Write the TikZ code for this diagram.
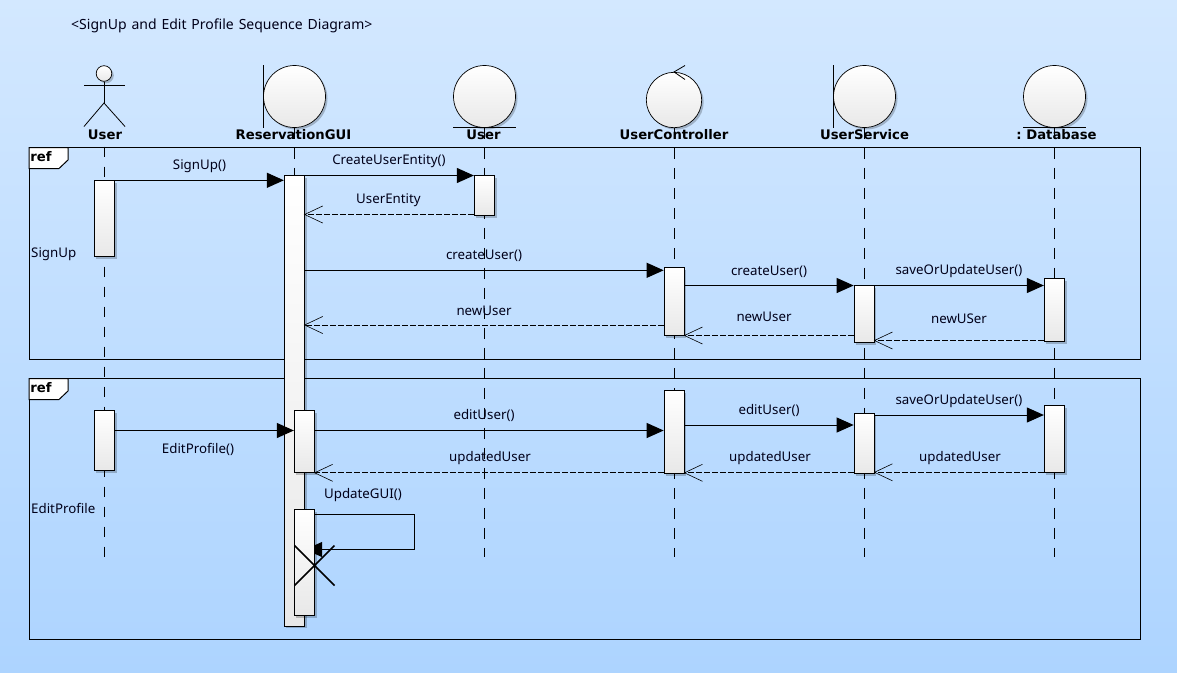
\documentclass[tikz,border=0pt]{standalone}
\usepackage{fontspec}
\setmainfont{Noto Sans}
\newfontfamily\headfont{DejaVu Sans}
\newcommand{\titlefont}{\fontsize{14}{16}\selectfont\spaceskip 4.9pt\relax}
\usetikzlibrary{calc, positioning, arrows.meta, shadows}

\definecolor{bgtop}{HTML}{D3E8FF}
\definecolor{bgbot}{HTML}{ADD4FF}
\definecolor{boxlow}{HTML}{E8E8E8}

\tikzset{
  softshadow/.style={drop shadow={shadow xshift=2pt, shadow yshift=-2pt, opacity=0.22, fill=black}},
  activ/.style={draw, line width=1pt, top color=white, bottom color=boxlow, minimum width=20.3pt, inner sep=0pt, softshadow},
  headball/.style={draw, circle, line width=0.7pt, top color=white, bottom color=boxlow, inner sep=0pt, softshadow},
  lifeline/.style={line width=1pt, dash pattern=on 10.7pt off 9.3pt},
  msg/.style={line width=1pt, -{Triangle[length=17pt,width=15pt]}},
  reply/.style={line width=0.8pt, dash pattern=on 5.5pt off 2.5pt, shorten >=-1.2pt, -{Straight Barb[length=18pt,width=17pt,line width=0.6pt]}},
  headlabel/.style={font=\fontsize{13.2}{15}\headfont\bfseries, inner sep=0pt},
  msglabel/.style={font=\fontsize{13.3}{15}\selectfont, inner sep=0pt, yshift=-0.8pt, text=black!90!blue},
  titlelabel/.style={font=\titlefont, inner sep=0pt, text=black!90!blue},
  frameline/.style={draw, line width=1pt},
  framelabel/.style={font=\fontsize{13.2}{15}\headfont\bfseries, inner sep=0pt}
}

\begin{document}
\begin{tikzpicture}[x=1pt, y=-1pt]
  \useasboundingbox (0,0) rectangle (1177,672);
  \fill[top color=bgtop, bottom color=bgbot] (0,0) rectangle (1177,672);

  \node[titlelabel, anchor=west] (title) at (71,25.5) {<SignUp and Edit Profile Sequence Diagram>};

  % Frames
  \draw[frameline] (29,147.5) rectangle (1140.5,359);
  \draw[frameline] (29,378.5) rectangle (1140.5,639.5);
  \draw[frameline, fill=white] (29,147.5) -- (68,147.5) -- (68,160) -- (59,168.5) -- (29,168.5) -- cycle;
  \draw[frameline, fill=white] (29,378.5) -- (68,378.5) -- (68,391) -- (59,399.5) -- (29,399.5) -- cycle;
  \node[framelabel] (ref1) at (41,157) {ref};
  \node[framelabel] (ref2) at (41,388) {ref};
  \node[msglabel, anchor=west] (frag1) at (31,253) {SignUp};
  \node[msglabel, anchor=west] (frag2) at (31,508) {EditProfile};

  % Lifeline heads
  \node[headball, minimum size=15.6pt] (actorhead) at (104,73.5) {};
  \coordinate (actorhip) at (104,103);
  \node[headball, minimum size=62pt] (gui) at (294.5,96.5) {};
  \node[headball, minimum size=62pt] (entity) at (484.5,96.5) {};
  \node[headball, minimum size=55.4pt] (ctrl) at (674,100) {};
  \node[headball, minimum size=62pt] (service) at (864.5,96.5) {};
  \node[headball, minimum size=62pt] (db) at (1054.5,96.5) {};

  \draw[line width=0.8pt] (actorhead.south) -- (actorhip);
  \draw[line width=0.8pt] (84,85.5) -- (125,85.5);
  \draw[line width=0.8pt] (84,126.5) -- (actorhip) -- (125,126.5);
  \draw[line width=0.8pt] (gui.west |- 0,65) -- (gui.west |- 0,128);
  \draw[line width=0.8pt] (service.west |- 0,65) -- (service.west |- 0,128);
  \draw[line width=0.8pt] (453,127.5) -- (516,127.5);
  \draw[line width=0.8pt] (1023,127.5) -- (1086,127.5);
  \draw[line width=0.8pt] (685,65.5) -- (ctrl.north) -- (685,79.5);

  % Lifelines
  \draw[lifeline] (104,146.7) -- (104,557);
  \draw[lifeline] (gui.south) -- (294.5,557);
  \draw[lifeline] (entity.south) -- (484.5,557);
  \draw[lifeline] (ctrl.south) -- (674,557);
  \draw[lifeline] (service.south) -- (864.5,557);
  \draw[lifeline] (db.south) -- (1054.5,557);

  \node[headlabel] (lbl1) at (105,134.5) {User};
  \node[headlabel] (lbl2) at (293.5,134.5) {ReservationGUI};
  \node[headlabel] (lbl3) at (483.5,134.5) {User};
  \node[headlabel] (lbl4) at (674,134.5) {UserController};
  \node[headlabel] (lbl5) at (864.5,134.5) {UserService};
  \node[headlabel] (lbl6) at (1056.5,134.5) {:\hspace{-1.5pt} Database};

  % Activations
  \node[activ, minimum height=76pt, anchor=north] (aUser1) at (104.5,180.3) {};
  \node[activ, minimum height=450.4pt, anchor=north] (aGui) at (294.5,175.3) {};
  \node[activ, minimum height=40pt, anchor=north] (aEnt) at (484.5,175.3) {};
  \node[activ, minimum height=68pt, anchor=north] (aCtrl1) at (674.3,267.3) {};
  \node[activ, minimum height=57pt, anchor=north] (aSvc1) at (864.3,285.3) {};
  \node[activ, minimum height=63pt, anchor=north] (aDb1) at (1054.5,278.3) {};
  \node[activ, minimum height=60pt, anchor=north] (aUser2) at (104.5,410.3) {};
  \node[activ, minimum height=62pt, anchor=north] (aGui2) at (304.5,410.3) {};
  \draw[msg] (aGui.east |- 0,514.3) -- (414.6,514.3) -- (414.6,549.5) -- (aGui.east |- 0,549.5);
  \node[activ, minimum height=106pt, anchor=north] (aGui3) at (304.5,509.3) {};
  \node[activ, minimum height=83pt, anchor=north] (aCtrl2) at (674.3,390.3) {};
  \node[activ, minimum height=60pt, anchor=north] (aSvc2) at (864.3,413.3) {};
  \node[activ, minimum height=67pt, anchor=north] (aDb2) at (1054.5,405.3) {};

  % Messages in SignUp
  \draw[msg] (aUser1.east |- 0,180.3) -- (aGui.west |- 0,180.3);
  \draw[msg] (aGui.east |- 0,175.5) -- (aEnt.west |- 0,175.5);
  \draw[reply] (aEnt.west |- 0,214.5) -- (aGui.east |- 0,214.5);
  \draw[msg] (aGui.east |- 0,270.3) -- (aCtrl1.west |- 0,270.3);
  \draw[msg] (aCtrl1.east |- 0,285.5) -- (aSvc1.west |- 0,285.5);
  \draw[msg] (aSvc1.east |- 0,285.5) -- (aDb1.west |- 0,285.5);
  \draw[reply] (aCtrl1.west |- 0,325) -- (aGui.east |- 0,325);
  \draw[reply] (aSvc1.west |- 0,335.5) -- (aCtrl1.east |- 0,335.5);
  \draw[reply] (aDb1.west |- 0,340.5) -- (aSvc1.east |- 0,340.5);

  % Messages in EditProfile
  \draw[msg] (aUser2.east |- 0,430.5) -- (aGui2.west |- 0,430.5);
  \draw[msg] (aGui2.east |- 0,430.5) -- (aCtrl2.west |- 0,430.5);
  \draw[msg] (aCtrl2.east |- 0,425) -- (aSvc2.west |- 0,425);
  \draw[msg] (aSvc2.east |- 0,415) -- (aDb2.west |- 0,415);
  \draw[reply] (aCtrl2.west |- 0,472.8) -- (aGui2.east |- 0,472.8);
  \draw[reply] (aSvc2.west |- 0,472.8) -- (aCtrl2.east |- 0,472.8);
  \draw[reply] (aDb2.west |- 0,472.3) -- (aSvc2.east |- 0,472.3);

  % Destroy mark
  \draw[line width=1.6pt] (294.5,545.5) -- (334.5,585.5);
  \draw[line width=1.6pt] (334.5,545.5) -- (294.5,585.5);

  % Labels
  \node[msglabel] (m1) at (199.5,165.5) {SignUp()};
  \node[msglabel] (m2) at (389,160) {CreateUserEntity()};
  \node[msglabel] (m3) at (388.5,199.5) {UserEntity};
  \node[msglabel] (m4) at (484,254.5) {createUser()};
  \node[msglabel] (m5) at (769,270.5) {createUser()};
  \node[msglabel] (m6) at (959,270.5) {saveOrUpdateUser()};
  \node[msglabel] (m7) at (484,310.5) {newUser};
  \node[msglabel] (m8) at (764,316.5) {newUser};
  \node[msglabel] (m9) at (959,318) {newUSer};
  \node[msglabel] (m10) at (198,448.5) {EditProfile()};
  \node[msglabel] (m11) at (484,414.5) {editUser()};
  \node[msglabel] (m12) at (769,409.5) {editUser()};
  \node[msglabel] (m13) at (959,400) {saveOrUpdateUser()};
  \node[msglabel] (m14) at (490,457.5) {updatedUser};
  \node[msglabel] (m15) at (770,457.5) {updatedUser};
  \node[msglabel] (m16) at (960,457) {updatedUser};
  \node[msglabel] (m17) at (363,494.5) {UpdateGUI()};
\end{tikzpicture}
\end{document}
